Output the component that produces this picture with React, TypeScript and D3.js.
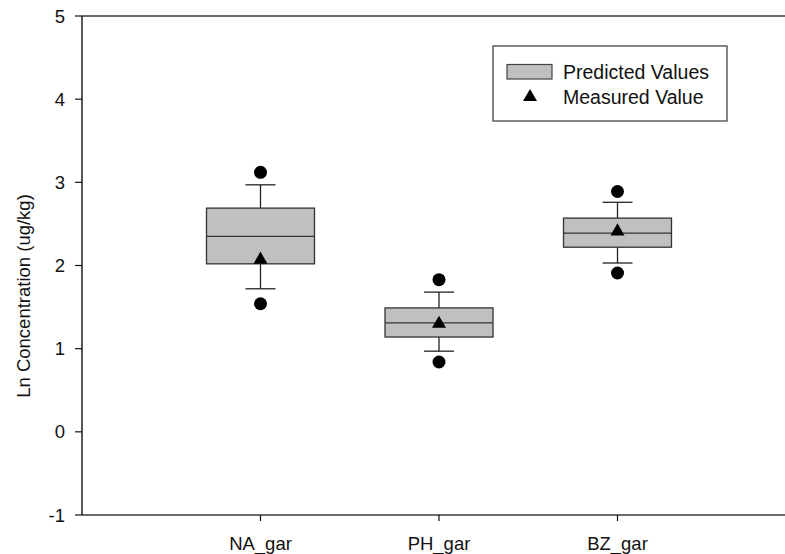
import React from "react";
import * as d3 from "d3";

const categories = ["NA_gar", "PH_gar", "BZ_gar"];
const q1 = [2.02, 1.14, 2.22];
const median = [2.35, 1.31, 2.39];
const q3 = [2.69, 1.49, 2.57];
const whiskerLow = [1.72, 0.97, 2.03];
const whiskerHigh = [2.97, 1.68, 2.76];
const outlierLow = [1.54, 0.84, 1.91];
const outlierHigh = [3.12, 1.83, 2.89];
const measured = [2.07, 1.3, 2.41];
const yTicks = [-1, 0, 1, 2, 3, 4, 5];

const W = 785;
const H = 554;
const FONT = "'Liberation Sans', Arial, sans-serif";

export default function App() {
  const x = d3.scaleLinear().domain([0, 4]).range([82, 796]);
  const y = d3.scaleLinear().domain([-1, 5]).range([515, 16]);
  const boxW = 0.605 * (x(1) - x(0));
  const capW = 30;
  const axisColor = "#3a3a3a";
  const tri = d3.symbol().type(d3.symbolTriangle).size(85)();

  return (
    <svg
      width={W}
      height={H}
      style={{ position: "fixed", left: 0, top: 0, background: "#fff" }}
      fontFamily={FONT}
    >
      <rect x={0} y={0} width={W} height={H} fill="#fff" />
      {/* frame lines */}
      <line x1={x(0)} x2={x(4)} y1={y(5)} y2={y(5)} stroke={axisColor} strokeWidth={1.6} />
      <line x1={x(0)} x2={x(4)} y1={y(-1)} y2={y(-1)} stroke={axisColor} strokeWidth={1.6} />
      <line x1={x(0)} x2={x(0)} y1={y(5)} y2={y(-1)} stroke="#111" strokeWidth={1.4} />
      {/* y ticks */}
      {yTicks.map((t) => (
        <g key={t}>
          <line x1={x(0) - 7} x2={x(0)} y1={y(t)} y2={y(t)} stroke="#111" strokeWidth={1.2} />
          <text x={x(0) - 17} y={y(t)} dy="0.36em" textAnchor="end" fontSize={18.5} fill="#111">
            {t}
          </text>
        </g>
      ))}
      {/* x ticks */}
      {categories.map((c, i) => (
        <g key={c}>
          <line x1={x(i + 1)} x2={x(i + 1)} y1={y(-1)} y2={y(-1) + 6} stroke="#111" strokeWidth={1.2} />
          <text x={x(i + 1)} y={550} textAnchor="middle" fontSize={18.5} fill="#111">
            {c}
          </text>
        </g>
      ))}
      {/* y title */}
      <text
        transform={`translate(30,296) rotate(-90)`}
        textAnchor="middle"
        fontSize={18.5}
        fill="#111"
      >
        Ln Concentration (ug/kg)
      </text>
      {/* boxes */}
      {categories.map((c, i) => {
        const cx = x(i + 1);
        return (
          <g key={c}>
            <line x1={cx} x2={cx} y1={y(q3[i])} y2={y(whiskerHigh[i])} stroke="#222" strokeWidth={1.3} />
            <line x1={cx} x2={cx} y1={y(q1[i])} y2={y(whiskerLow[i])} stroke="#222" strokeWidth={1.3} />
            <line x1={cx - capW / 2} x2={cx + capW / 2} y1={y(whiskerHigh[i])} y2={y(whiskerHigh[i])} stroke="#222" strokeWidth={1.3} />
            <line x1={cx - capW / 2} x2={cx + capW / 2} y1={y(whiskerLow[i])} y2={y(whiskerLow[i])} stroke="#222" strokeWidth={1.3} />
            <rect
              x={cx - boxW / 2}
              y={y(q3[i])}
              width={boxW}
              height={y(q1[i]) - y(q3[i])}
              fill="#c0c0c0"
              stroke="#333"
              strokeWidth={1.3}
            />
            <line x1={cx - boxW / 2} x2={cx + boxW / 2} y1={y(median[i])} y2={y(median[i])} stroke="#333" strokeWidth={1.3} />
            <circle cx={cx} cy={y(outlierHigh[i])} r={6.5} fill="#000" />
            <circle cx={cx} cy={y(outlierLow[i])} r={6.5} fill="#000" />
            <path d={tri as string} transform={`translate(${cx},${y(measured[i])})`} fill="#000" />
          </g>
        );
      })}
      {/* legend */}
      <g>
        <rect x={493} y={46} width={234} height={75} fill="#fff" stroke="#444" strokeWidth={1.3} />
        <rect x={507} y={64.5} width={45} height={14.5} fill="#c0c0c0" stroke="#444" strokeWidth={1.2} />
        <text x={563} y={79} fontSize={19.5} fill="#111">Predicted Values</text>
        <path d={tri as string} transform="translate(530,97)" fill="#000" />
        <text x={563} y={103.5} fontSize={19.5} fill="#111">Measured Value</text>
      </g>
    </svg>
  );
}
